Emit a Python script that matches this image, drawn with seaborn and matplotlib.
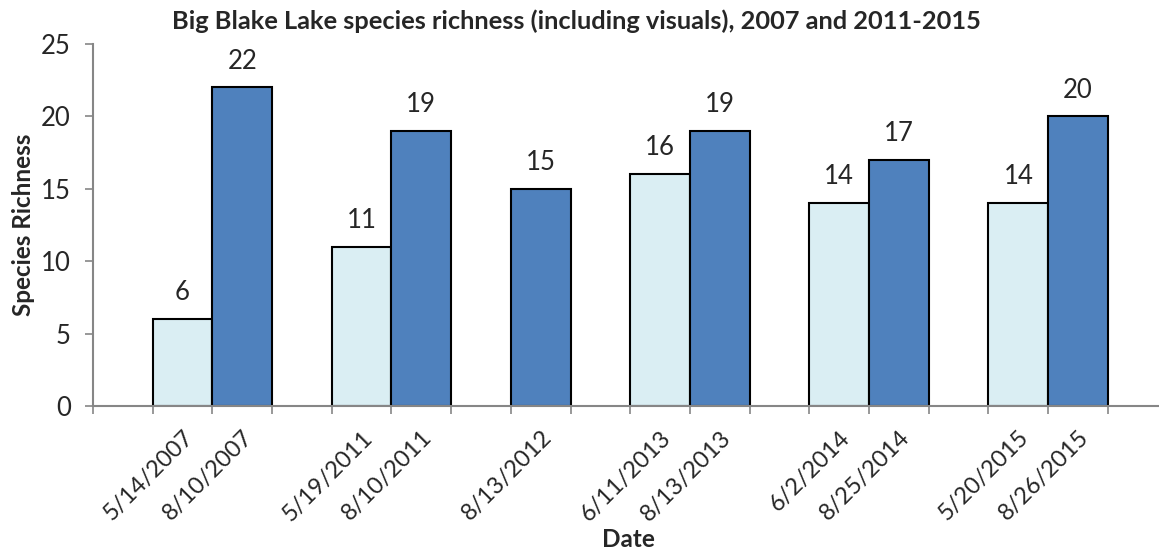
import pandas as pd
import seaborn as sns
import matplotlib.pyplot as plt
import matplotlib.transforms as mtransforms

# survey dates (blank strings keep the gaps between years)
dates = ['', '5/14/2007', '8/10/2007', ' ', '5/19/2011', '8/10/2011', '  ',
         '8/13/2012', '   ', '6/11/2013', '8/13/2013', '    ',
         '6/2/2014', '8/25/2014', '     ', '5/20/2015', '8/26/2015']
sampled = ['5/14/2007', '8/10/2007', '5/19/2011', '8/10/2011', '8/13/2012',
           '6/11/2013', '8/13/2013', '6/2/2014', '8/25/2014', '5/20/2015', '8/26/2015']
richness = [6, 22, 11, 19, 15, 16, 19, 14, 17, 14, 20]
season = ['Spring', 'Summer', 'Spring', 'Summer', 'Summer', 'Spring', 'Summer',
          'Spring', 'Summer', 'Spring', 'Summer']
yticks = [0, 5, 10, 15, 20, 25]

df = pd.DataFrame({'Date': sampled, 'Richness': richness, 'Season': season})

sns.set_style('white')
plt.rcParams['font.family'] = ['Lato', 'DejaVu Sans']

fig = plt.figure(figsize=(11.59, 5.52), dpi=100)
ax = fig.add_axes([93 / 1159, 146 / 552, 1065 / 1159, 362 / 552])

sns.barplot(data=df, x='Date', y='Richness', hue='Season', order=dates,
            palette={'Spring': '#DAEEF3', 'Summer': '#4F81BD'}, saturation=1,
            dodge=False, width=1.0, edgecolor='black', linewidth=1.5,
            legend=False, ax=ax)

# value labels above bars
for c in ax.containers:
    ax.bar_label(c, fmt='%g', padding=10, fontsize=18.5)

ax.set_ylim(0, 25)
ax.set_yticks(yticks)
ax.set_xlim(-0.5, 17.34)

# label each sampled bar, ticks sit on slot boundaries
pos = [dates.index(d) for d in sampled]
ax.set_xticks(pos)
ax.set_xticklabels(sampled, rotation=45, ha='right', va='top',
                   rotation_mode='anchor', fontsize=17)
shift = mtransforms.ScaledTranslation(0.05, 0, fig.dpi_scale_trans)
for lbl in ax.get_xticklabels():
    lbl.set_transform(lbl.get_transform() + shift)
ax.tick_params(axis='x', which='major', length=0, pad=15)
ax.set_xticks([i - 0.5 for i in range(len(dates) + 1)], minor=True)
ax.tick_params(axis='x', which='minor', length=6, width=1.2, color='#868686', direction='out', bottom=True)
ax.tick_params(axis='y', length=6, width=1.2, color='#868686', direction='out', left=True, labelsize=18.5, pad=10)

for s in ['top', 'right']:
    ax.spines[s].set_visible(False)
for s in ['left', 'bottom']:
    ax.spines[s].set_color('#868686')
    ax.spines[s].set_linewidth(1.5)

ax.set_title('Big Blake Lake species richness (including visuals), 2007 and 2011-2015',
             fontsize=18.3, fontweight='bold', x=0.454, pad=11)
ax.set_xlabel('Date', fontsize=17.5, fontweight='bold')
ax.xaxis.set_label_coords(0.503, -0.337)
ax.set_ylabel('Species Richness', fontsize=17.5, fontweight='bold', labelpad=4)

fig.savefig('out.png', dpi=100)
